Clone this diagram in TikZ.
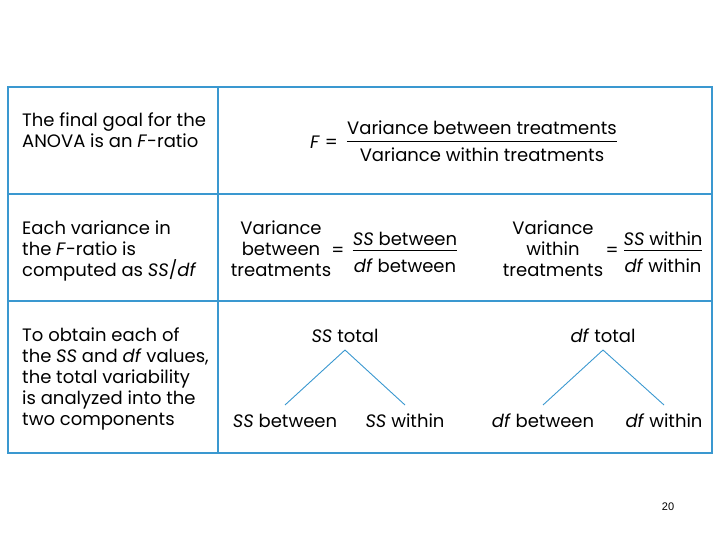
\documentclass[tikz,border=0pt]{standalone}
\usepackage{fontspec}
\setmainfont{Poppins}
\newfontfamily\numfont{Liberation Sans}
\usetikzlibrary{positioning}

\definecolor{tblblue}{RGB}{58,152,208}

\begin{document}
\begin{tikzpicture}[
  x=1pt, y=-1pt,
  cellline/.style={draw=tblblue, line width=1.6pt},
  branch/.style={draw=tblblue, line width=0.9pt},
  txt/.style={inner sep=0pt, font=\fontsize{18}{21}\selectfont},
  para/.style={txt, align=left, anchor=north west},
  stack/.style={txt, align=center, anchor=north}
]
\useasboundingbox (0,0) rectangle (720,540);

% table frame and rules
\draw[cellline] (8,87) rectangle (712,453);
\draw[cellline] (8,194) -- (712,194);
\draw[cellline] (8,301) -- (712,301);
\draw[cellline] (218,87) -- (218,453);

% Row 1: the F-ratio
\node[para] (goal) at (22,113) {The final goal for the\\ANOVA is an \textit{F}-ratio};
\node[txt, anchor=base] (fnum) at (482,135) {Variance between treatments};
\node[txt, anchor=base] (fden) at (482,162) {Variance within treatments};
\node[txt, anchor=base east] (feq) at (338,149) {\textit{F} =};
\draw (fnum.west |- 0,141) -- (fnum.east |- 0,141);

% Row 2: variance = SS/df
\node[para] (each) at (22,221) {Each variance in\\the \textit{F}-ratio is\\computed as \textit{SS}/\textit{df}};
\node[stack] (vb) at (281,221) {Variance\\between\\treatments};
\node[txt, anchor=base] (eqb) at (338,256) {=};
\node[txt, anchor=base] (ssb) at (405,245) {\textit{SS} between};
\node[txt, anchor=base] (dfb) at (405,272) {\textit{df} between};
\draw (ssb.west |- 0,250) -- (ssb.east |- 0,250);

\node[stack] (vw) at (553,221) {Variance\\within\\treatments};
\node[txt, anchor=base] (eqw) at (612,256) {=};
\node[txt, anchor=base] (ssw) at (663,245) {\textit{SS} within};
\node[txt, anchor=base] (dfw) at (663,272) {\textit{df} within};
\draw (dfw.west |- 0,250) -- (dfw.east |- 0,250);

% Row 3: partition of SS and df
\node[para] (obtain) at (22,328) {To obtain each of\\the \textit{SS} and \textit{df} values,\\the total variability\\is analyzed into the\\two components};

\node[txt, anchor=base] (sstot) at (345,342) {\textit{SS} total};
\node[txt, anchor=base] (sspb) at (285,427) {\textit{SS} between};
\node[txt, anchor=base] (sspw) at (405,427) {\textit{SS} within};
\coordinate (ssapex) at ([yshift=-8pt]sstot.base);
\draw[branch] (ssapex) -- ([yshift=22pt]sspb.base);
\draw[branch] (ssapex) -- ([yshift=22pt]sspw.base);

\node[txt, anchor=base] (dftot) at (603,342) {\textit{df} total};
\node[txt, anchor=base] (dfpb) at (543,427) {\textit{df} between};
\node[txt, anchor=base] (dfpw) at (664,427) {\textit{df} within};
\coordinate (dfapex) at ([yshift=-8pt]dftot.base);
\draw[branch] (dfapex) -- ([yshift=22pt]dfpb.base);
\draw[branch] (dfapex) -- ([yshift=22pt]dfpw.base);

% page number
\node[inner sep=0pt, anchor=base, font=\numfont\fontsize{11}{13}\selectfont] (page) at (668,510) {20};
\end{tikzpicture}
\end{document}
